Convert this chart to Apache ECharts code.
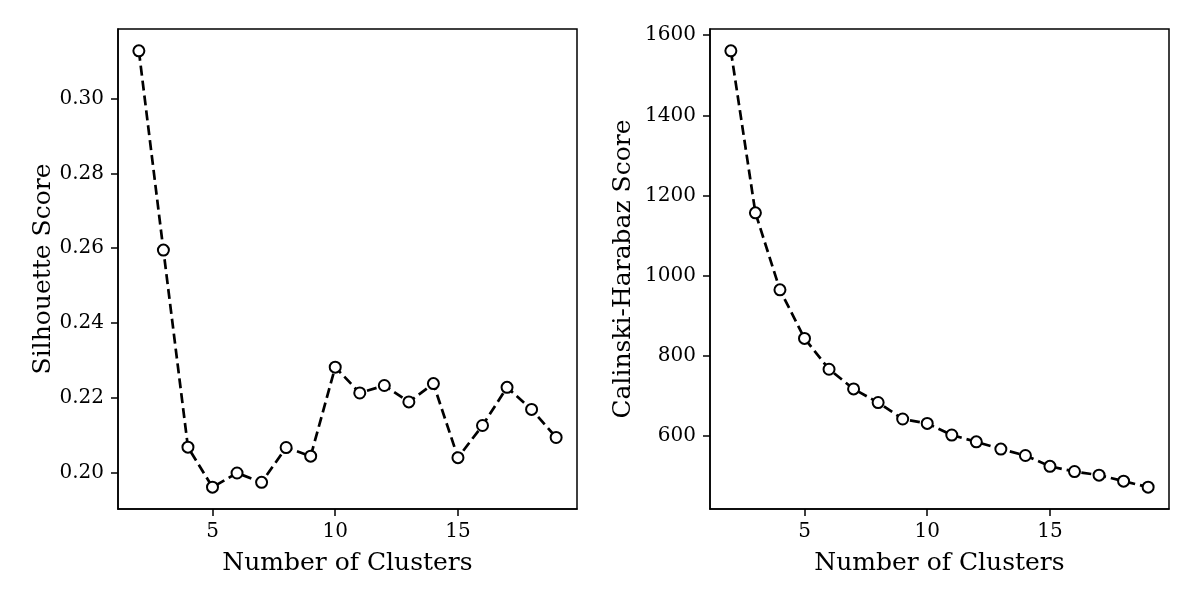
<!DOCTYPE html>
<html>
<head>
<meta charset="utf-8">
<script src="https://cdn.jsdelivr.net/npm/echarts@6/dist/echarts.min.js"></script>
<style>
  html, body { margin: 0; padding: 0; background: #fff; }
  #chart { width: 1200px; height: 600px; }
</style>
</head>
<body>
<div id="chart"></div>
<script>
// cluster counts on the x axis
var clusters = [2, 3, 4, 5, 6, 7, 8, 9, 10, 11, 12, 13, 14, 15, 16, 17, 18, 19];

var silhouette = [0.3128, 0.2595, 0.2068, 0.1961, 0.1999, 0.1974, 0.2067, 0.2044, 0.2282,
                  0.2213, 0.2233, 0.2189, 0.2238, 0.2040, 0.2126, 0.2228, 0.2169, 0.2094];
var calinski = [1561, 1157, 965, 844, 767, 718, 684, 643, 632,
                603, 586, 568, 552, 525, 512, 503, 488, 473];

var xTicks = [5, 10, 15];
var silTicks = [0.20, 0.22, 0.24, 0.26, 0.28, 0.30];
var calTicks = [600, 800, 1000, 1200, 1400, 1600];

var font = "DejaVu Serif";

function pairs(xs, ys) {
    return xs.map(function (x, i) { return [x, ys[i]]; });
}

// matplotlib-ish 5% margins
function padded(vals) {
    var lo = Math.min.apply(null, vals), hi = Math.max.apply(null, vals);
    var m = (hi - lo) * 0.05;
    return [lo - m, hi + m];
}

var xr = padded(clusters);
var sr = padded(silhouette);
var cr = padded(calinski);

function xAxis(idx) {
    return {
        gridIndex: idx,
        type: 'value',
        min: xr[0],
        max: xr[1],
        name: 'Number of Clusters',
        nameLocation: 'middle',
        nameGap: 42,
        nameTextStyle: { fontFamily: font, fontSize: 25, color: '#000' },
        axisLine: { show: true, onZero: false, lineStyle: { color: '#000', width: 1.5 } },
        axisTick: { show: true, length: 7, customValues: xTicks, lineStyle: { color: '#000', width: 1.5 } },
        axisLabel: { customValues: xTicks, fontFamily: font, fontSize: 20, color: '#000', margin: 13 },
        splitLine: { show: false }
    };
}

function yAxis(idx, range, ticks, title, fmt, gap) {
    return {
        gridIndex: idx,
        type: 'value',
        min: range[0],
        max: range[1],
        name: title,
        nameLocation: 'middle',
        nameGap: gap,
        nameTextStyle: { fontFamily: font, fontSize: 25, color: '#000' },
        axisLine: { show: true, onZero: false, lineStyle: { color: '#000', width: 1.5 } },
        axisTick: { show: true, length: 7, customValues: ticks, lineStyle: { color: '#000', width: 1.5 } },
        axisLabel: { customValues: ticks, fontFamily: font, fontSize: 20, color: '#000', margin: 14, formatter: fmt },
        splitLine: { show: false }
    };
}

function series(idx, data) {
    return {
        type: 'line',
        xAxisIndex: idx,
        yAxisIndex: idx,
        data: pairs(clusters, data),
        symbol: 'circle',
        symbolSize: 11,
        showAllSymbol: true,
        lineStyle: { color: '#000', width: 2.7, type: [10, 5] },
        itemStyle: { color: '#fff', borderColor: '#000', borderWidth: 2 },
        animation: false
    };
}

var chart = echarts.init(document.getElementById('chart'));
chart.setOption({
    backgroundColor: '#fff',
    animation: false,
    grid: [
        { left: 118, right: 623, top: 29, bottom: 91, show: true, borderColor: '#000', borderWidth: 1.5, backgroundColor: 'transparent' },
        { left: 710, right: 31, top: 29, bottom: 91, show: true, borderColor: '#000', borderWidth: 1.5, backgroundColor: 'transparent' }
    ],
    xAxis: [xAxis(0), xAxis(1)],
    yAxis: [
        yAxis(0, sr, silTicks, 'Silhouette Score', function (v) { return v.toFixed(2); }, 62),
        yAxis(1, cr, calTicks, 'Calinski-Harabaz Score', function (v) { return String(Math.round(v)); }, 74)
    ],
    series: [series(0, silhouette), series(1, calinski)]
});
</script>
</body>
</html>
